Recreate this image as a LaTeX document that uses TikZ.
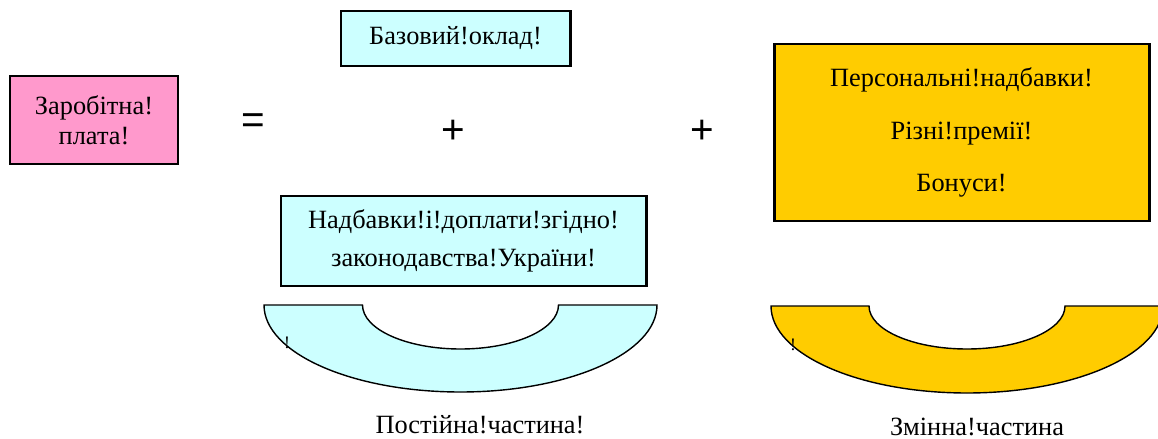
\documentclass[tikz,border=0pt]{standalone}
\usepackage{fontspec}
\setmainfont{Liberation Serif}
\newfontfamily\signfont{Liberation Sans}
\definecolor{salpink}{HTML}{FF99CC}
\definecolor{salcyan}{HTML}{CCFFFF}
\definecolor{salgold}{HTML}{FFCC00}
\begin{document}
\begin{tikzpicture}[
  box/.style={draw, line width=1.7pt, align=center, font=\fontsize{15}{17}\selectfont},
  sign/.style={font=\signfont\fontsize{23}{23}\selectfont},
  lbl/.style={font=\fontsize{15}{17}\selectfont}]
\useasboundingbox (0,0) rectangle (23.16,-8.78);

\node[box, fill=salpink, minimum width=3.36cm, minimum height=1.76cm] (zp) at (1.88,-2.4) {Заробітна!\\плата!};
\node[box, fill=salcyan, minimum width=4.58cm, minimum height=1.1cm] (base) at (9.11,-0.77) {Базовий!оклад!};
\node[box, fill=salcyan, minimum width=7.3cm, minimum height=1.8cm, font=\fontsize{15}{21.5}\selectfont] (legal) at (9.27,-4.82) {Надбавки!і!доплати!згідно!\\законодавства!України!};
\node[box, fill=salgold, minimum width=7.5cm, minimum height=3.54cm] (extra) at (19.23,-2.65) {Персональні!надбавки!\\[13pt]Різні!премії!\\[13pt]Бонуси!};

\node[sign] (eq) at (5.06,-2.48) {=};
\node[sign] (p1) at (9.06,-2.64) {+};
\node[sign] (p2) at (14.04,-2.64) {+};

% constant part
\draw[fill=salcyan, thick] (5.28,-6.1) arc[start angle=180, end angle=360, x radius=3.93cm, y radius=1.74cm]
  -- (11.17,-6.1) arc[start angle=360, end angle=180, x radius=1.96cm, y radius=0.88cm] -- cycle;
% variable part
\draw[fill=salgold, thick] (15.42,-6.12) arc[start angle=180, end angle=360, x radius=3.92cm, y radius=1.74cm]
  -- (21.3,-6.12) arc[start angle=360, end angle=180, x radius=1.96cm, y radius=0.86cm] -- cycle;

\node[font=\fontsize{10}{10}\selectfont] (m1) at (5.74,-6.86) {!};
\node[font=\fontsize{10}{10}\selectfont] (m2) at (15.86,-6.9) {!};

\node[lbl] (const) at (9.6,-8.5) {Постійна!частина!};
\node[lbl] (var) at (19.54,-8.54) {Змінна!частина};
\end{tikzpicture}
\end{document}
